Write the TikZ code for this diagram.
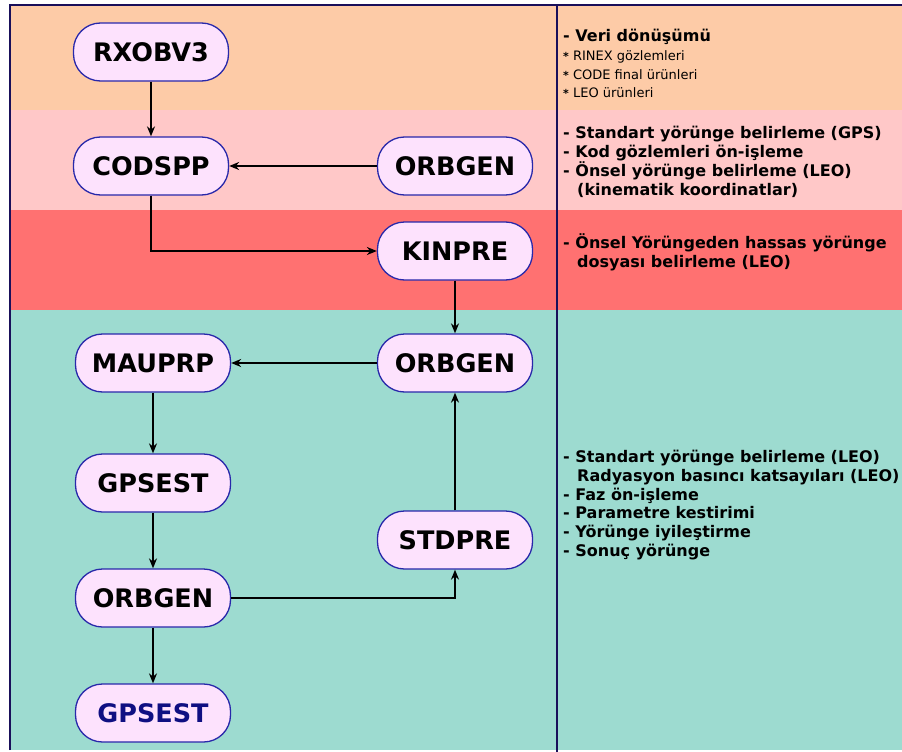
\documentclass[tikz,border=0pt]{standalone}
\usepackage{fontspec}
\setmainfont{DejaVu Sans}
\usetikzlibrary{arrows.meta}
\definecolor{bandA}{RGB}{253,203,167}
\definecolor{bandB}{RGB}{255,200,200}
\definecolor{bandC}{RGB}{255,113,113}
\definecolor{bandD}{RGB}{157,219,208}
\definecolor{pill}{RGB}{253,226,253}
\definecolor{pillline}{RGB}{40,40,170}
\definecolor{sepline}{RGB}{25,15,90}
\definecolor{gpsblue}{RGB}{15,15,130}
\tikzset{
  prog/.style={draw=pillline, line width=1.3pt, fill=pill, rounded corners=27pt,
    minimum width=155pt, minimum height=58pt, font=\fontsize{25.5}{28}\selectfont\bfseries},
  flow/.style={-{Stealth[length=10pt,width=8pt]}, line width=1.4pt},
  desc/.style={anchor=base west, inner sep=0pt, font=\fontsize{16}{18}\selectfont\bfseries},
  item/.style={anchor=base west, inner sep=0pt, font=\fontsize{13}{15}\selectfont},
}
\newcommand{\bul}{{\fontsize{11}{11}\selectfont\bfseries *}}
\begin{document}
\begin{tikzpicture}[x=1pt,y=-1pt]
\useasboundingbox (0,0) rectangle (902,752);
% bands
\fill[white] (0,0) rectangle (902,752);
\fill[bandA] (10,5) rectangle (902,110);
\fill[bandB] (10,110) rectangle (902,210);
\fill[bandC] (10,210) rectangle (902,310);
\fill[bandD] (10,310) rectangle (902,750);
\draw[sepline, line width=1.5pt] (10,750) -- (10,5) -- (902,5);
\draw[sepline, line width=2.5pt] (557,5) -- (557,752);
% programs
\node[prog] (rxobv) at (151,52) {RXOBV3};
\node[prog] (codspp) at (151,166) {CODSPP};
\node[prog] (orbgenA) at (455,166) {ORBGEN};
\node[prog] (kinpre) at (455,251) {KINPRE};
\node[prog] (orbgenB) at (455,363) {ORBGEN};
\node[prog] (mauprp) at (153,363) {MAUPRP};
\node[prog] (gpsestA) at (153,483) {GPSEST};
\node[prog] (stdpre) at (455,540) {STDPRE};
\node[prog] (orbgenC) at (153,598) {ORBGEN};
\node[prog, text=gpsblue] (gpsestB) at (153,713) {GPSEST};
% flow
\draw[flow] (rxobv) -- (codspp);
\draw[flow] (orbgenA) -- (codspp);
\draw[flow] (codspp.south) |- (kinpre.west);
\draw[flow] (kinpre) -- (orbgenB);
\draw[flow] (orbgenB) -- (mauprp);
\draw[flow] (mauprp) -- (gpsestA);
\draw[flow] (gpsestA) -- (orbgenC);
\draw[flow] (orbgenC) -- (gpsestB);
\draw[flow] (orbgenC.east) -| (stdpre.south);
\draw[flow] (stdpre) -- (orbgenB);
% descriptions
\node[desc] (dA1) at (563,42) {- Veri dönüşümü};
\node[item] (dA2) at (563,61) {\bul{} RINEX gözlemleri};
\node[item] (dA3) at (563,79) {\bul{} CODE final ürünleri};
\node[item] (dA4) at (563,97) {\bul{} LEO ürünleri};
\node[desc] (dB1) at (563,138) {- Standart yörünge belirleme (GPS)};
\node[desc] (dB2) at (563,157) {- Kod gözlemleri ön-işleme};
\node[desc] (dB3) at (563,176) {- Önsel yörünge belirleme (LEO)};
\node[desc] (dB4) at (577,195) {(kinematik koordinatlar)};
\node[desc] (dC1) at (563,248) {- Önsel Yörüngeden hassas yörünge};
\node[desc] (dC2) at (577,267) {dosyası belirleme (LEO)};
\node[desc] (dD1) at (563,462) {- Standart yörünge belirleme (LEO)};
\node[desc] (dD2) at (577,481) {Radyasyon basıncı katsayıları (LEO)};
\node[desc] (dD3) at (563,500) {- Faz ön-işleme};
\node[desc] (dD4) at (563,518) {- Parametre kestirimi};
\node[desc] (dD5) at (563,537) {- Yörünge iyileştirme};
\node[desc] (dD6) at (563,556) {- Sonuç yörünge};
\end{tikzpicture}
\end{document}
